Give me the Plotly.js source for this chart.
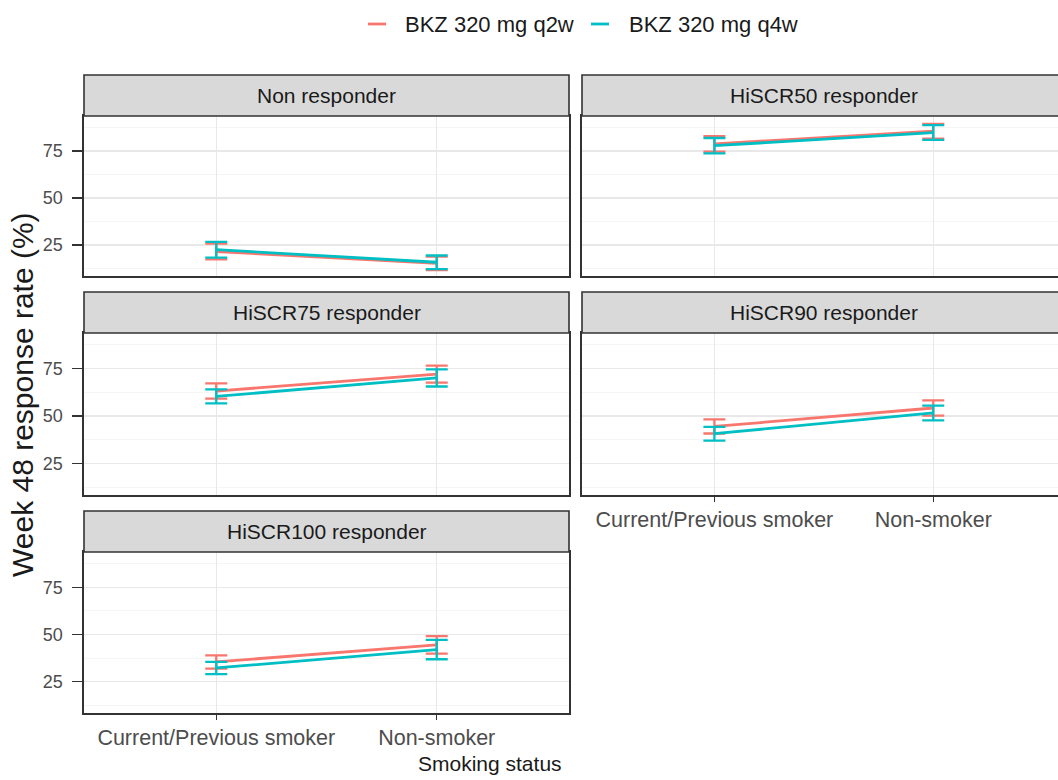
<!DOCTYPE html>
<html>
<head>
<meta charset="utf-8">
<script src="https://cdn.plot.ly/plotly-3.0.1.min.js"></script>
<style>html,body{margin:0;padding:0;background:#fff;}#chart{width:1058px;height:780px;}</style>
</head>
<body>
<div id="chart"></div>
<script>
// ---- data ----
const facets = ['Non responder', 'HiSCR50 responder', 'HiSCR75 responder', 'HiSCR90 responder', 'HiSCR100 responder'];
const smoking = ['Current/Previous smoker', 'Non-smoker'];
const seriesNames = ['BKZ 320 mg q2w', 'BKZ 320 mg q4w'];
const q2wRate = [[21.5, 15.2], [78.8, 85.5], [63.1, 72.0], [44.5, 54.2], [35.5, 44.5]];
const q2wErr  = [[4.2, 3.6], [4.1, 3.9], [4.0, 4.5], [3.7, 4.0], [3.5, 4.6]];
const q4wRate = [[22.5, 15.8], [77.8, 84.8], [60.3, 70.0], [40.7, 51.6], [32.3, 42.0]];
const q4wErr  = [[4.2, 3.6], [4.1, 3.9], [3.7, 4.5], [3.6, 3.9], [3.2, 5.1]];
const yTicks = [25, 50, 75];
const yMinor = [12.5, 37.5, 62.5, 87.5];

// ---- styling / layout ----
const colors = ['#F8766D', '#00BFC4'];
const W = 1058, H = 780;
const px = v => v / W, py = v => 1 - v / H;
const colX = [[84, 569], [582, 1058]];
const rowY = [[116, 276], [333, 495], [552, 713]];
const stripH = 41;
const panelPos = [[0, 0], [1, 0], [0, 1], [1, 1], [0, 2]]; // [col,row]
const xRanges = [[-0.6, 1.6], [-0.605, 1.57]];
const fontFam = 'Liberation Sans, Arial, sans-serif';

const traces = [];
const rates = [q2wRate, q4wRate];
const errs = [q2wErr, q4wErr];
facets.forEach((f, i) => {
  const ax = i === 0 ? '' : String(i + 1);
  for (let s = 0; s < 2; s++) {
    traces.push({
      type: 'scatter', mode: 'lines',
      x: smoking, y: rates[s][i],
      error_y: {type: 'data', array: errs[s][i], visible: true, color: colors[s], thickness: 2.3, width: 11},
      line: {color: colors[s], width: 2.8},
      name: seriesNames[s], showlegend: false,
      xaxis: 'x' + ax, yaxis: 'y' + ax, hoverinfo: 'skip'
    });
  }
});

const layout = {
  width: W, height: H,
  margin: {l: 0, r: 0, t: 0, b: 0},
  paper_bgcolor: '#fff', plot_bgcolor: '#fff',
  font: {family: fontFam, color: '#4D4D4D'},
  showlegend: false,
  shapes: [], annotations: []
};

facets.forEach((f, i) => {
  const [c, r] = panelPos[i];
  const ax = i === 0 ? '' : String(i + 1);
  const showX = (i === 4 || i === 3);
  const showY = (c === 0);
  layout['xaxis' + ax] = {
    domain: [px(colX[c][0]), px(colX[c][1])],
    anchor: 'y' + ax,
    type: 'category', categoryarray: smoking, categoryorder: 'array',
    range: xRanges[c],
    showline: true, mirror: true, linecolor: '#333333', linewidth: 1.6,
    showgrid: true, gridcolor: '#E8E8E8', gridwidth: 1.1,
    ticks: showX ? 'outside' : '', ticklen: 5, tickcolor: '#333333', tickwidth: 1.3,
    showticklabels: showX,
    tickfont: {size: 21.5, color: '#4D4D4D', family: fontFam},
    zeroline: false, fixedrange: true
  };
  layout['yaxis' + ax] = {
    domain: [py(rowY[r][1]), py(rowY[r][0])],
    anchor: 'x' + ax,
    range: [8.5, 93.6],
    tickvals: yTicks, ticktext: yTicks.map(String),
    minor: {tickvals: yMinor, showgrid: true, gridcolor: '#F1F1F1', gridwidth: 0.7, ticks: ''},
    showline: true, mirror: true, linecolor: '#333333', linewidth: 1.6,
    showgrid: true, gridcolor: '#E8E8E8', gridwidth: 1.1,
    ticks: showY ? 'outside' : '', ticklen: 10, tickcolor: '#333333', tickwidth: 1.3,
    ticklabelstandoff: 6,
    showticklabels: showY,
    tickfont: {size: 18, color: '#4D4D4D', family: fontFam},
    zeroline: false, fixedrange: true
  };
  const x0 = colX[c][0], x1 = c === 1 ? 1066 : colX[c][1];
  const y1 = rowY[r][0], y0 = y1 - stripH;
  layout.shapes.push({
    type: 'rect', xref: 'paper', yref: 'paper',
    x0: px(x0), x1: px(x1), y0: py(y0), y1: py(y1),
    fillcolor: '#D9D9D9', line: {color: '#333333', width: 1.6}, layer: 'above'
  });
  const cx = c === 1 ? (582 + 1066) / 2 : (x0 + x1) / 2;
  layout.annotations.push({
    xref: 'paper', yref: 'paper', x: px(cx), y: py((y0 + y1) / 2),
    text: f, showarrow: false, xanchor: 'center', yanchor: 'middle',
    font: {size: 21, color: '#1A1A1A', family: fontFam}
  });
});

// legend (drawn manually to match short key dashes)
const legX = [[368, 386, 403], [591, 609, 627]];
seriesNames.forEach((n, s) => {
  layout.shapes.push({
    type: 'line', xref: 'paper', yref: 'paper',
    x0: px(legX[s][0]), x1: px(legX[s][1]), y0: py(24), y1: py(24),
    line: {color: colors[s], width: 2.8}
  });
  layout.annotations.push({
    xref: 'paper', yref: 'paper', x: px(legX[s][2]), y: py(24),
    text: n, showarrow: false, xanchor: 'left', yanchor: 'middle',
    font: {size: 22, color: '#1A1A1A', family: fontFam}
  });
});

// axis titles
layout.annotations.push({
  xref: 'paper', yref: 'paper', x: px(490), y: py(763),
  text: 'Smoking status', showarrow: false, xanchor: 'center', yanchor: 'middle',
  font: {size: 21, color: '#1A1A1A', family: fontFam}
});
layout.annotations.push({
  xref: 'paper', yref: 'paper', x: px(22), y: py(395),
  text: 'Week 48 response rate (%)', showarrow: false, textangle: -90,
  xanchor: 'center', yanchor: 'middle',
  font: {size: 30, color: '#1A1A1A', family: fontFam}
});

Plotly.newPlot('chart', traces, layout, {staticPlot: true, displayModeBar: false});
</script>
</body>
</html>
